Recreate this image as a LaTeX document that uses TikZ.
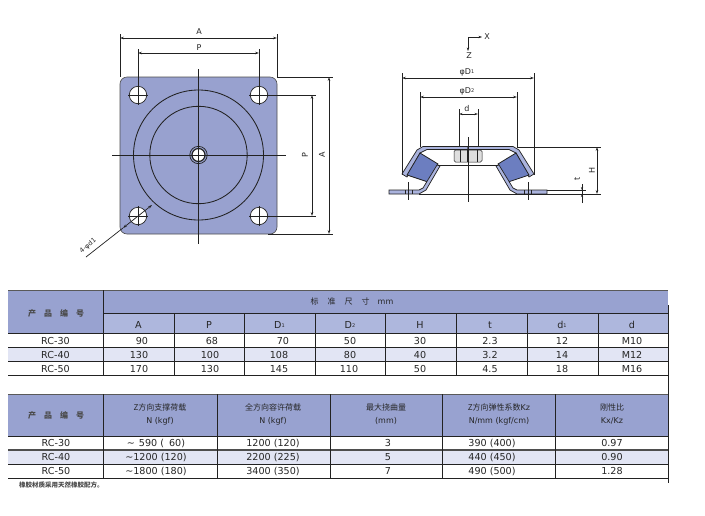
\documentclass[tikz,border=0pt]{standalone}
\usepackage{fontspec}
\setmainfont{DejaVu Sans}
\newfontfamily\cjk{Noto Sans CJK SC}
\usetikzlibrary{arrows.meta}
\definecolor{band}{HTML}{98A2D0}
\definecolor{subband}{HTML}{AEB7DD}
\definecolor{altrow}{HTML}{E2E5F4}
\definecolor{plate}{HTML}{98A1CF}
\definecolor{rubber}{HTML}{6C7EC0}
\definecolor{metal}{HTML}{AAB3DD}
\definecolor{ink}{HTML}{222222}
\definecolor{txt}{HTML}{262626}
\definecolor{softtxt}{HTML}{4A4A4A}
\newcommand{\idx}[1]{\raisebox{0.6pt}{\fontsize{5}{5}\selectfont #1}}
\newcommand{\spacedhead}{{\cjk\bfseries 产\hspace{8pt}品\hspace{8pt}编\hspace{8pt}号}}
\newcommand{\halfsection}{%
  \path[draw=ink,line width=0.7pt,fill=metal] (402,174) -- (417,150) -- (423,146.5) -- (468,146.5) -- (468,149.5) -- (427,149.5) -- (420,153) -- (407,177) -- cycle;
  \path[draw=ink,line width=0.8pt,fill=rubber] (420,153) -- (438,164) -- (428,182) -- (407,175) -- cycle;
  \path[draw=ink,line width=0.7pt,fill=metal] (437,165) -- (423,188) -- (419,190) -- (389,190) -- (389,194) -- (419,194) -- (426,190) -- (440,166) -- cycle;
  \draw[linea] (439,165) -- (468,165);
  \draw[linea,line width=1pt] (405,190) -- (405,194) (412,190) -- (412,194);
  \draw[linea] (408,182) -- (408,200);
  \draw[linea] (419,194) -- (468,194);
}
\tikzset{
  linea/.style={draw=ink,line width=0.7pt},
  dimline/.style={linea,{Stealth[length=4pt,width=2.6pt]}-{Stealth[length=4pt,width=2.6pt]}},
  lbl/.style={inner sep=0pt,text=txt,font=\fontsize{8}{8}\selectfont},
  cell/.style={inner sep=0pt,text=txt,text height=7pt,text depth=0pt,font=\fontsize{9.6}{10}\selectfont},
  headcell/.style={inner sep=0pt,text=txt,text height=6.5pt,text depth=1pt,font=\fontsize{8}{9}\selectfont},
  rule/.style={draw=ink,line width=0.9pt},
  softrule/.style={draw=ink!75,line width=1pt},
  hole/.style={draw=ink,line width=0.7pt,fill=white},
}
\begin{document}
\begin{tikzpicture}[x=1pt,y=-1pt]
\useasboundingbox (0,0) rectangle (705,515);
\fill[white] (0,0) rectangle (705,515);

% ---- plan view
\draw[draw=ink!80,line width=0.6pt,fill=plate,rounded corners=7pt] (120,77) rectangle (277,234);
\draw[linea,line width=0.85pt] (198.5,155) circle (65);
\draw[linea,line width=0.85pt] (198.5,155) circle (48.7);
\foreach \hx/\hy in {138/95,259/95,138/216,259/216}{
  \draw[hole] (\hx,\hy) circle (8.7);
  \draw[linea] (\hx-10,\hy) -- (\hx+10,\hy) (\hx,\hy-10) -- (\hx,\hy+10);
}
\draw[draw=ink,line width=1.2pt,fill=white] (198.5,155) circle (6.5);
\draw[linea] (198.5,155) circle (8.7);
\draw[linea] (198.5,69) -- (198.5,244);
\draw[linea] (112,155) -- (286,155);
% plan dimensions
\draw[linea] (120,34) -- (120,77) (277,34) -- (277,77);
\draw[linea] (138,49) -- (138,86) (259,49) -- (259,86);
\draw[dimline] (120,38) -- (277,38);
\draw[dimline] (138,53) -- (259,53);
\node[lbl] (topA) at (199,32) {A};
\node[lbl] (topP) at (199,48) {P};
\draw[linea] (277,77) -- (333,77) (268,234) -- (333,234);
\draw[linea] (268,95) -- (316,95) (268,216) -- (316,216);
\draw[dimline] (329,77) -- (329,234);
\draw[dimline] (312,95) -- (312,216);
\node[lbl,rotate=90] (sideP) at (305,155) {P};
\node[lbl,rotate=90] (sideA) at (322,155) {A};
\draw[linea] (86,257) -- (123,228);
\draw[dimline] (123,228) -- (152,205);
\node[lbl,rotate=40,font=\fontsize{6.5}{7}\selectfont] (holeLbl) at (88,246) {4-φd1};

% ---- section view
\draw[linea,-{Stealth[length=3.5pt,width=2.4pt]}] (468,37) -- (482,37);
\draw[linea,-{Stealth[length=3.5pt,width=2.4pt]}] (468,37) -- (468,51);
\node[lbl] (axX) at (487,37) {X};
\node[lbl] (axZ) at (469,56) {Z};
\halfsection
\begin{scope}[shift={(936,0)},xscale=-1]
  \halfsection
\end{scope}
\draw[draw=ink,line width=0.5pt,fill=black!13,rounded corners=1.5pt] (454,150) rectangle (482,162);
\draw[linea] (460,150) -- (460,162) (467,150) -- (467,162) (477,150) -- (477,162);
\draw[linea] (468,137) -- (468,202);
\draw[linea] (402,73) -- (402,175) (534,73) -- (534,175);
\draw[linea] (420,92) -- (420,147) (517,92) -- (517,147);
\draw[linea] (459,109) -- (459,147) (478,109) -- (478,147);
\draw[dimline] (402,78) -- (534,78);
\draw[dimline] (420,97) -- (517,97);
\draw[linea,{Stealth[length=3.5pt,width=2.2pt]}-{Stealth[length=3.5pt,width=2.2pt]}] (459,114) -- (478,114);
\node[lbl] (d1Lbl) at (467,72) {φD\idx{1}};
\node[lbl] (d2Lbl) at (467,91) {φD\idx{2}};
\node[lbl] (dLbl) at (467,109) {d};
\draw[linea] (517,147) -- (601,147) (517,194) -- (601,194);
\draw[linea] (547,190) -- (586,190);
\draw[dimline] (597,147) -- (597,194);
\draw[linea] (582,184) -- (582,203);
\draw[linea,-{Stealth[length=3pt,width=2.2pt]}] (582,184) -- (582,190);
\draw[linea,-{Stealth[length=3pt,width=2.2pt]}] (582,203) -- (582,194);
\node[lbl,rotate=90] (hLbl) at (592,170) {H};
\node[lbl,rotate=90] (tLbl) at (577,179) {t};

% ---- table 1
\fill[band] (8,290) rectangle (668,313);
\fill[band] (8,313) rectangle (103,333);
\fill[subband] (103,313) rectangle (668,333);
\fill[altrow] (8,347) rectangle (668,361);
\draw[softrule] (8,290) -- (668,290);
\draw[rule] (103,313) -- (668,313);
\foreach \ly in {333,347,361,375}{\draw[rule] (8,\ly) -- (668,\ly);}
\draw[rule] (103,290) -- (103,375);
\foreach \lx in {174,244,315,385,456,527,598}{\draw[rule] (\lx,313) -- (\lx,375);}
\node[headcell,text=softtxt] (h1) at (56,314) {\spacedhead};
\node[headcell] (h1t) at (352,302) {{\cjk 标\hspace{9pt}准\hspace{9pt}尺\hspace{9pt}寸}\hspace{8pt}mm};
\foreach \cx/\tx [count=\c] in {138.5/A,209/P,279.5/D\idx{1},350/D\idx{2},420/H,490/t,562/d\idx{1},632/d}{
  \node[cell] (sh\c) at (\cx,325) {\tx};
}
\foreach \cx/\tx [count=\c] in {55.5/RC-30,142/90,212/68,283/70,350/50,420/30,490/2.3,562/12,632/M10}{
  \node[cell] (ra\c) at (\cx,341) {\tx};
}
\foreach \cx/\tx [count=\c] in {55.5/RC-40,139/130,210/100,279/108,350/80,420/40,490/3.2,562/14,632/M12}{
  \node[cell] (rb\c) at (\cx,354.5) {\tx};
}
\foreach \cx/\tx [count=\c] in {55.5/RC-50,139/170,210/130,279/145,349/110,420/50,490/4.5,562/18,632/M16}{
  \node[cell] (rc\c) at (\cx,368.5) {\tx};
}

% ---- table 2
\fill[band] (8,394) rectangle (668,436);
\fill[altrow] (8,450) rectangle (668,464);
\draw[softrule] (8,394) -- (668,394);
\draw[rule] (8,436) -- (668,436);
\draw[draw=ink!80,line width=1.5pt] (8,450) -- (668,450);
\draw[rule] (8,464) -- (668,464);
\draw[rule] (8,478) -- (668,478);
\foreach \lx in {103,217,330,442,555}{\draw[rule] (\lx,394) -- (\lx,478);}
\draw[draw=ink,line width=1pt] (668,305) -- (668,483);
\node[headcell,text=softtxt] (h2) at (56,416) {\spacedhead};
\foreach \cx/\ta/\tb [count=\c] in {160/{\cjk Z方向支撑荷载}/{N (kgf)},
  273/{\cjk 全方向容许荷载}/{N (kgf)},
  386/{\cjk 最大挠曲量}/{(mm)},
  499/{{\cjk Z方向弹性系数}Kz}/{N/mm (kgf/cm)},
  612/{\cjk 刚性比}/{Kx/Kz}}{
  \node[headcell] (ta\c) at (\cx,408) {\ta};
  \node[headcell] (tb\c) at (\cx,420.5) {\tb};
}
\foreach \cx/\tx [count=\c] in {56/RC-30,156/{∼\hspace{4pt}590 (\hspace{5pt}60)},273/1200 (120),388/3,492/390 (400),612/0.97}{
  \node[cell] (sa\c) at (\cx,442.5) {\tx};
}
\foreach \cx/\tx [count=\c] in {56/RC-40,156/{∼1200 (120)},273/2200 (225),388/5,492/440 (450),612/0.90}{
  \node[cell] (sb\c) at (\cx,457) {\tx};
}
\foreach \cx/\tx [count=\c] in {56/RC-50,156/{∼1800 (180)},273/3400 (350),388/7,492/490 (500),612/1.28}{
  \node[cell] (sc\c) at (\cx,471) {\tx};
}
\node[inner sep=0pt,anchor=west,text=softtxt,font=\fontsize{6.5}{7}\selectfont] (note) at (19,485) {\cjk\bfseries 橡胶材质采用天然橡胶配方。};
\end{tikzpicture}
\end{document}
